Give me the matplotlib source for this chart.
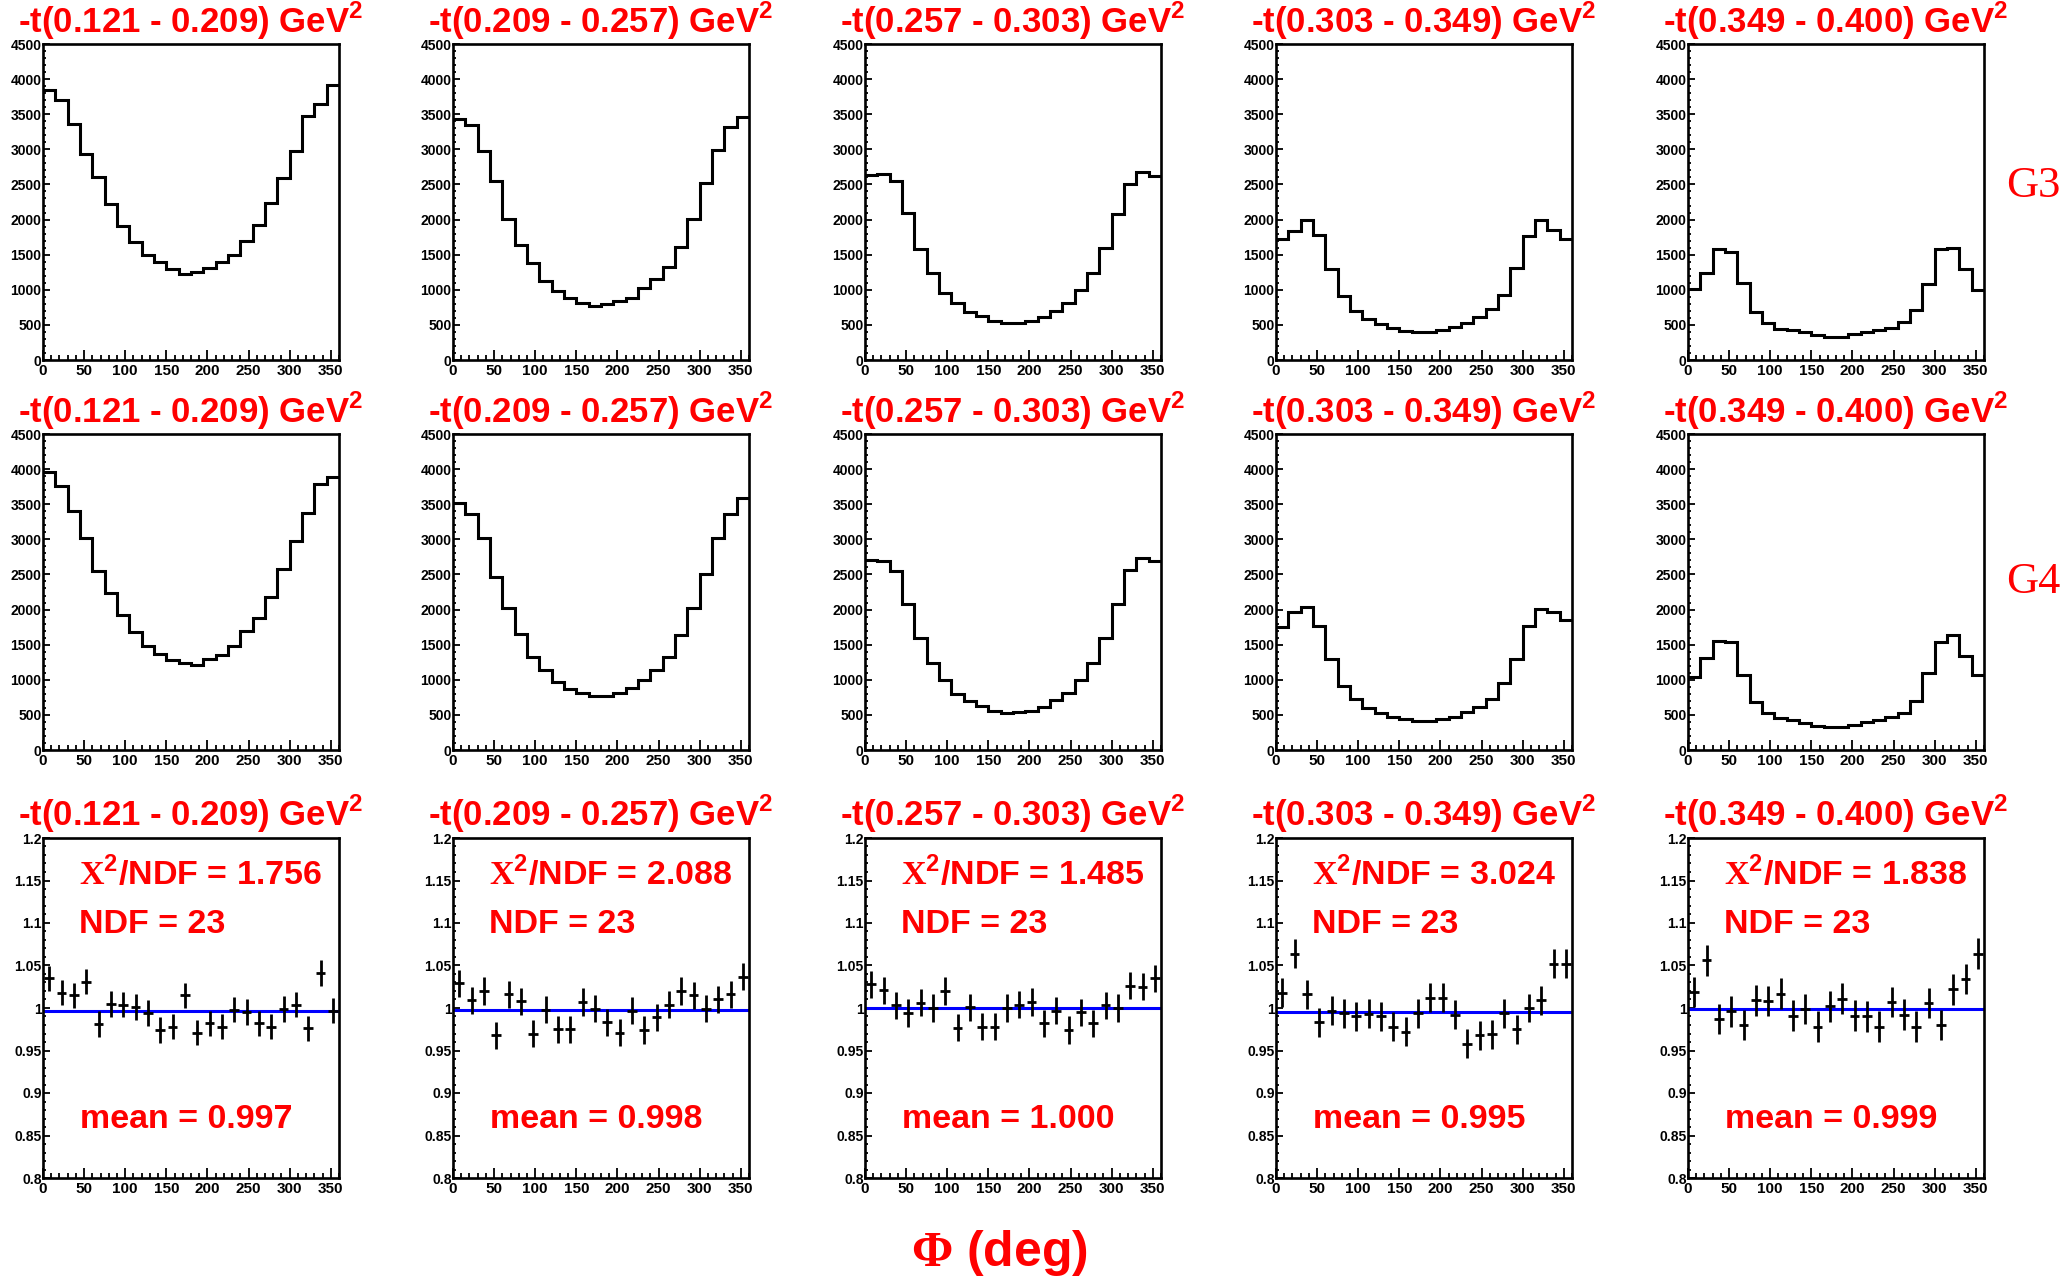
import numpy as np
import matplotlib
matplotlib.use("Agg")
import matplotlib.pyplot as plt
from matplotlib.ticker import MultipleLocator, FuncFormatter

plt.rcParams['font.family'] = 'Liberation Sans'
plt.rcParams['font.weight'] = 'bold'
plt.rcParams['mathtext.fontset'] = 'custom'
plt.rcParams['mathtext.rm'] = 'Liberation Sans:bold'
plt.rcParams['mathtext.bf'] = 'Liberation Sans:bold'
plt.rcParams['mathtext.sf'] = 'Liberation Serif'

# -t bins and phi binning (24 bins of 15 deg)
t_bins = ["0.121 - 0.209", "0.209 - 0.257", "0.257 - 0.303", "0.303 - 0.349", "0.349 - 0.400"]
phi_edges = np.arange(0, 361, 15)
phi_centers = phi_edges[:-1] + 7.5

# G3 counts per phi bin
g3_t1 = [3850, 3700, 3365, 2937, 2605, 2215, 1910, 1687, 1497, 1397, 1302, 1221,
         1260, 1317, 1393, 1497, 1700, 1920, 2234, 2585, 2970, 3470, 3645, 3910]
g3_t2 = [3436, 3341, 2970, 2552, 2005, 1640, 1378, 1131, 989, 889, 808, 770,
         794, 841, 889, 1022, 1160, 1331, 1606, 2005, 2519, 2994, 3317, 3460]
g3_t3 = [2633, 2652, 2552, 2091, 1587, 1245, 951, 817, 680, 627, 561, 532,
         523, 561, 618, 699, 817, 998, 1245, 1592, 2086, 2510, 2676, 2614]
g3_t4 = [1720, 1844, 1987, 1773, 1302, 917, 703, 580, 513, 461, 418, 399,
         399, 428, 466, 532, 608, 722, 932, 1316, 1759, 1987, 1854, 1730]
g3_t5 = [1008, 1245, 1583, 1545, 1093, 689, 523, 442, 428, 394, 352, 323,
         323, 371, 394, 428, 456, 537, 713, 1084, 1578, 1597, 1302, 998]

# G4 counts per phi bin
g4_t1 = [3965, 3761, 3401, 3022, 2556, 2230, 1919, 1681, 1482, 1365, 1278, 1234,
         1215, 1293, 1356, 1487, 1691, 1876, 2177, 2580, 2979, 3372, 3785, 3892]
g4_t2 = [3518, 3363, 3022, 2459, 2026, 1657, 1331, 1137, 972, 870, 816, 768,
         768, 816, 880, 991, 1137, 1331, 1637, 2021, 2512, 3013, 3363, 3586]
g4_t3 = [2711, 2692, 2556, 2080, 1599, 1234, 991, 792, 700, 627, 554, 525,
         540, 559, 612, 709, 806, 991, 1234, 1599, 2085, 2566, 2736, 2692]
g4_t4 = [1749, 1963, 2036, 1759, 1302, 914, 729, 598, 525, 476, 437, 408,
         418, 437, 476, 535, 612, 729, 948, 1293, 1764, 2007, 1968, 1847]
g4_t5 = [1034, 1316, 1559, 1535, 1069, 685, 525, 457, 428, 384, 345, 330,
         330, 360, 398, 432, 466, 525, 700, 1098, 1535, 1633, 1341, 1069]

# ratio per phi bin
ratio_t1 = [1.035, 1.018, 1.015, 1.031, 0.981, 1.005, 1.004, 1.001, 0.994, 0.974, 0.978, 1.015,
            0.971, 0.982, 0.978, 0.998, 0.995, 0.982, 0.978, 0.999, 1.004, 0.976, 1.041, 0.997]
ratio_t2 = [1.029, 1.009, 1.020, 0.968, 1.016, 1.008, 0.970, 0.998, 0.975, 0.975, 1.007, 0.999,
            0.983, 0.971, 0.997, 0.974, 0.989, 1.004, 1.020, 1.015, 0.999, 1.010, 1.016, 1.037]
ratio_t3 = [1.028, 1.021, 1.003, 0.994, 1.006, 1.000, 1.020, 0.977, 1.001, 0.978, 0.978, 1.000,
            1.004, 1.007, 0.982, 0.997, 0.974, 0.995, 0.982, 1.003, 1.000, 1.026, 1.025, 1.035]
ratio_t4 = [1.018, 1.064, 1.016, 0.983, 0.997, 0.994, 0.990, 0.993, 0.990, 0.978, 0.972, 0.994,
            1.012, 1.012, 0.992, 0.958, 0.968, 0.969, 0.994, 0.975, 1.000, 1.009, 1.052, 1.052]
ratio_t5 = [1.019, 1.056, 0.987, 0.996, 0.980, 1.009, 1.008, 1.017, 0.991, 0.999, 0.978, 1.002,
            1.011, 0.991, 0.990, 0.978, 1.007, 0.992, 0.978, 1.006, 0.980, 1.022, 1.034, 1.064]
ratio_err = [0.015, 0.016, 0.016, 0.017, 0.018]

chi2_ndf = [1.756, 2.088, 1.485, 3.024, 1.838]
ndf = [23, 23, 23, 23, 23]
ratio_mean = [0.997, 0.998, 1.000, 0.995, 0.999]

g3 = [g3_t1, g3_t2, g3_t3, g3_t4, g3_t5]
g4 = [g4_t1, g4_t2, g4_t3, g4_t4, g4_t5]
ratios = [ratio_t1, ratio_t2, ratio_t3, ratio_t4, ratio_t5]

# layout in pixels of the 2068x1278 canvas
W, H = 2068, 1278
col_left = [43, 453, 865, 1276, 1688]
col_w = 296
row_top = [44, 434, 838]
row_h = [316, 316, 340]
title_pad = [8, 8, 9]

fig = plt.figure(figsize=(W / 100, H / 100), dpi=100)


def make_axes(r, c):
    ax = fig.add_axes([col_left[c] / W, 1 - (row_top[r] + row_h[r]) / H, col_w / W, row_h[r] / H])
    for s in ax.spines.values():
        s.set_linewidth(1.9)
    ax.set_xlim(0, 360)
    ax.xaxis.set_major_locator(MultipleLocator(50))
    ax.xaxis.set_minor_locator(MultipleLocator(10))
    ax.tick_params(axis='x', which='both', direction='in', top=False, labelsize=11, pad=3, width=1.3)
    ax.tick_params(axis='x', which='major', length=7)
    ax.tick_params(axis='x', which='minor', length=3.5)
    ax.tick_params(axis='y', which='both', direction='in', right=False, labelsize=10, pad=1, width=1.3)
    ax.tick_params(axis='y', which='major', length=5)
    ax.tick_params(axis='y', which='minor', length=2.5)
    ax.set_title("-t(" + t_bins[c] + ") GeV$^{2}$", color='red', fontsize=25, fontweight='bold',
                 pad=title_pad[r])
    return ax


for r, data in enumerate([g3, g4]):
    for c in range(5):
        ax = make_axes(r, c)
        ax.stairs(data[c], phi_edges, baseline=None, color='black', linewidth=2.2)
        ax.set_ylim(0, 4500)
        ax.yaxis.set_major_locator(MultipleLocator(500))
        ax.yaxis.set_minor_locator(MultipleLocator(100))

for c in range(5):
    ax = make_axes(2, c)
    ax.hlines(ratio_mean[c], 0, 360, color='#0000ff', linewidth=2.2, zorder=2)
    ax.errorbar(phi_centers, ratios[c], xerr=6, yerr=ratio_err[c], fmt='none',
                ecolor='black', elinewidth=2, capsize=0, zorder=3)
    ax.set_ylim(0.8, 1.2)
    ax.yaxis.set_major_locator(MultipleLocator(0.05))
    ax.yaxis.set_minor_locator(MultipleLocator(0.01))
    ax.yaxis.set_major_formatter(FuncFormatter(lambda v, p: "%g" % round(v, 2)))
    ax.text(0.12, 0.862, r"$\mathsf{X}^{2}$/NDF = %.3f" % chi2_ndf[c], transform=ax.transAxes,
            color='red', fontsize=24.5, fontweight='bold', va='baseline')
    ax.text(0.12, 0.72, "NDF = %d" % ndf[c], transform=ax.transAxes,
            color='red', fontsize=24.5, fontweight='bold', va='baseline')
    ax.text(0.125, 0.147, "mean = %.3f" % ratio_mean[c], transform=ax.transAxes,
            color='red', fontsize=24.5, fontweight='bold', va='baseline')

fig.text(2006 / W, 1 - 197 / H, "G3", family='Liberation Serif', fontweight='normal',
         fontsize=32, color='red', va='baseline')
fig.text(2006 / W, 1 - 593 / H, "G4", family='Liberation Serif', fontweight='normal',
         fontsize=32, color='red', va='baseline')
fig.text(1000 / W, 1 - 1266 / H, r"$\mathsf{\Phi}$ (deg)", color='red', fontsize=36,
         fontweight='bold', ha='center', va='baseline')

fig.savefig("out.png", dpi=100)
